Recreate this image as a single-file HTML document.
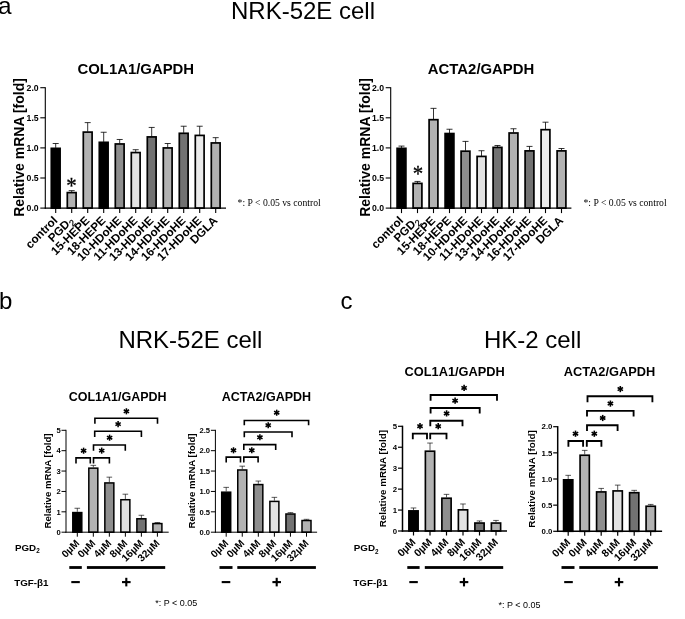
<!DOCTYPE html>
<html><head><meta charset="utf-8"><title>Figure</title>
<style>html,body{margin:0;padding:0;background:#fff;}svg{display:block;will-change:transform;filter:grayscale(1);}text{fill:#000;}</style></head>
<body>
<svg width="685" height="619" viewBox="0 0 685 619" style="display:block">
<rect width="685" height="619" fill="#fff"/>
<text x="-1.90" y="13.80" font-size="24.4" font-family="Liberation Sans, sans-serif" text-anchor="start" >a</text>
<text x="-1.00" y="308.70" font-size="24" font-family="Liberation Sans, sans-serif" text-anchor="start" >b</text>
<text x="340.40" y="308.90" font-size="24" font-family="Liberation Sans, sans-serif" text-anchor="start" >c</text>
<text x="303.00" y="18.70" font-size="24" font-family="Liberation Sans, sans-serif" text-anchor="middle" >NRK-52E cell</text>
<text x="190.40" y="347.60" font-size="24" font-family="Liberation Sans, sans-serif" text-anchor="middle" >NRK-52E cell</text>
<text x="532.60" y="347.60" font-size="24" font-family="Liberation Sans, sans-serif" text-anchor="middle" >HK-2 cell</text>
<path d="M55.70,147.90V143.51M52.70,143.51H58.70" stroke="#000" stroke-width="0.8" fill="none"/>
<path d="M71.70,192.15V190.64M68.70,190.64H74.70" stroke="#000" stroke-width="0.8" fill="none"/>
<path d="M87.70,131.65V122.62M84.70,122.62H90.70" stroke="#000" stroke-width="0.8" fill="none"/>
<path d="M103.70,141.88V132.25M100.70,132.25H106.70" stroke="#000" stroke-width="0.8" fill="none"/>
<path d="M119.70,143.51V139.47M116.70,139.47H122.70" stroke="#000" stroke-width="0.8" fill="none"/>
<path d="M135.70,152.11V149.71M132.70,149.71H138.70" stroke="#000" stroke-width="0.8" fill="none"/>
<path d="M151.70,136.46V127.43M148.70,127.43H154.70" stroke="#000" stroke-width="0.8" fill="none"/>
<path d="M167.70,147.48V143.51M164.70,143.51H170.70" stroke="#000" stroke-width="0.8" fill="none"/>
<path d="M183.70,132.85V126.23M180.70,126.23H186.70" stroke="#000" stroke-width="0.8" fill="none"/>
<path d="M199.70,134.96V126.23M196.70,126.23H202.70" stroke="#000" stroke-width="0.8" fill="none"/>
<path d="M215.70,142.48V137.67M212.70,137.67H218.70" stroke="#000" stroke-width="0.8" fill="none"/>
<rect x="51.30" y="148.35" width="8.80" height="59.75" fill="#000000" stroke="#000" stroke-width="1.7"/>
<rect x="67.30" y="192.60" width="8.80" height="15.50" fill="#b2b2b2" stroke="#000" stroke-width="1.7"/>
<rect x="83.30" y="132.10" width="8.80" height="76.00" fill="#b2b2b2" stroke="#000" stroke-width="1.7"/>
<rect x="99.30" y="142.33" width="8.80" height="65.77" fill="#000000" stroke="#000" stroke-width="1.7"/>
<rect x="115.30" y="143.96" width="8.80" height="64.14" fill="#8e8e8e" stroke="#000" stroke-width="1.7"/>
<rect x="131.30" y="152.56" width="8.80" height="55.54" fill="#e2e2e2" stroke="#000" stroke-width="1.7"/>
<rect x="147.30" y="136.91" width="8.80" height="71.19" fill="#727272" stroke="#000" stroke-width="1.7"/>
<rect x="163.30" y="147.93" width="8.80" height="60.17" fill="#b2b2b2" stroke="#000" stroke-width="1.7"/>
<rect x="179.30" y="133.30" width="8.80" height="74.80" fill="#727272" stroke="#000" stroke-width="1.7"/>
<rect x="195.30" y="135.41" width="8.80" height="72.69" fill="#ebebeb" stroke="#000" stroke-width="1.7"/>
<rect x="211.30" y="142.93" width="8.80" height="65.17" fill="#b2b2b2" stroke="#000" stroke-width="1.7"/>
<line x1="45.30" y1="87.15" x2="45.30" y2="208.65" stroke="#000" stroke-width="1.1" stroke-linecap="butt"/>
<line x1="44.75" y1="208.10" x2="226.00" y2="208.10" stroke="#000" stroke-width="1.1" stroke-linecap="butt"/>
<line x1="40.30" y1="208.10" x2="45.30" y2="208.10" stroke="#000" stroke-width="1.1" stroke-linecap="butt"/>
<text x="38.70" y="211.21" font-size="8.7" font-family="Liberation Sans, sans-serif" font-weight="bold" text-anchor="end" >0.0</text>
<line x1="40.30" y1="178.00" x2="45.30" y2="178.00" stroke="#000" stroke-width="1.1" stroke-linecap="butt"/>
<text x="38.70" y="181.11" font-size="8.7" font-family="Liberation Sans, sans-serif" font-weight="bold" text-anchor="end" >0.5</text>
<line x1="40.30" y1="147.90" x2="45.30" y2="147.90" stroke="#000" stroke-width="1.1" stroke-linecap="butt"/>
<text x="38.70" y="151.01" font-size="8.7" font-family="Liberation Sans, sans-serif" font-weight="bold" text-anchor="end" >1.0</text>
<line x1="40.30" y1="117.80" x2="45.30" y2="117.80" stroke="#000" stroke-width="1.1" stroke-linecap="butt"/>
<text x="38.70" y="120.91" font-size="8.7" font-family="Liberation Sans, sans-serif" font-weight="bold" text-anchor="end" >1.5</text>
<line x1="40.30" y1="87.70" x2="45.30" y2="87.70" stroke="#000" stroke-width="1.1" stroke-linecap="butt"/>
<text x="38.70" y="90.81" font-size="8.7" font-family="Liberation Sans, sans-serif" font-weight="bold" text-anchor="end" >2.0</text>
<line x1="55.70" y1="208.10" x2="55.70" y2="213.10" stroke="#000" stroke-width="1.1" stroke-linecap="butt"/>
<line x1="71.70" y1="208.10" x2="71.70" y2="213.10" stroke="#000" stroke-width="1.1" stroke-linecap="butt"/>
<line x1="87.70" y1="208.10" x2="87.70" y2="213.10" stroke="#000" stroke-width="1.1" stroke-linecap="butt"/>
<line x1="103.70" y1="208.10" x2="103.70" y2="213.10" stroke="#000" stroke-width="1.1" stroke-linecap="butt"/>
<line x1="119.70" y1="208.10" x2="119.70" y2="213.10" stroke="#000" stroke-width="1.1" stroke-linecap="butt"/>
<line x1="135.70" y1="208.10" x2="135.70" y2="213.10" stroke="#000" stroke-width="1.1" stroke-linecap="butt"/>
<line x1="151.70" y1="208.10" x2="151.70" y2="213.10" stroke="#000" stroke-width="1.1" stroke-linecap="butt"/>
<line x1="167.70" y1="208.10" x2="167.70" y2="213.10" stroke="#000" stroke-width="1.1" stroke-linecap="butt"/>
<line x1="183.70" y1="208.10" x2="183.70" y2="213.10" stroke="#000" stroke-width="1.1" stroke-linecap="butt"/>
<line x1="199.70" y1="208.10" x2="199.70" y2="213.10" stroke="#000" stroke-width="1.1" stroke-linecap="butt"/>
<line x1="215.70" y1="208.10" x2="215.70" y2="213.10" stroke="#000" stroke-width="1.1" stroke-linecap="butt"/>
<text x="135.80" y="74.40" font-size="14.9" font-family="Liberation Sans, sans-serif" font-weight="bold" text-anchor="middle" >COL1A1/GAPDH</text>
<text transform="translate(24.30,147.50) rotate(-90)" font-size="14" font-family="Liberation Sans, sans-serif" font-weight="bold" text-anchor="middle">Relative mRNA [fold]</text>
<text transform="translate(58.20,221.20) rotate(-45)" font-size="11.7" font-family="Liberation Sans, sans-serif" font-weight="bold" text-anchor="end">control</text>
<text transform="translate(74.20,221.20) rotate(-45)" font-size="11.7" font-family="Liberation Sans, sans-serif" font-weight="bold" text-anchor="end">PGD<tspan font-size="9.2" font-weight="normal" stroke="#000" stroke-width="0.25" dy="3">2</tspan></text>
<text transform="translate(90.20,221.20) rotate(-45)" font-size="11.7" font-family="Liberation Sans, sans-serif" font-weight="bold" text-anchor="end">15-HEPE</text>
<text transform="translate(106.20,221.20) rotate(-45)" font-size="11.7" font-family="Liberation Sans, sans-serif" font-weight="bold" text-anchor="end">18-HEPE</text>
<text transform="translate(122.20,221.20) rotate(-45)" font-size="11.7" font-family="Liberation Sans, sans-serif" font-weight="bold" text-anchor="end">10-HDoHE</text>
<text transform="translate(138.20,221.20) rotate(-45)" font-size="11.7" font-family="Liberation Sans, sans-serif" font-weight="bold" text-anchor="end">11-HDoHE</text>
<text transform="translate(154.20,221.20) rotate(-45)" font-size="11.7" font-family="Liberation Sans, sans-serif" font-weight="bold" text-anchor="end">13-HDoHE</text>
<text transform="translate(170.20,221.20) rotate(-45)" font-size="11.7" font-family="Liberation Sans, sans-serif" font-weight="bold" text-anchor="end">14-HDoHE</text>
<text transform="translate(186.20,221.20) rotate(-45)" font-size="11.7" font-family="Liberation Sans, sans-serif" font-weight="bold" text-anchor="end">16-HDoHE</text>
<text transform="translate(202.20,221.20) rotate(-45)" font-size="11.7" font-family="Liberation Sans, sans-serif" font-weight="bold" text-anchor="end">17-HDoHE</text>
<text transform="translate(218.20,221.20) rotate(-45)" font-size="11.7" font-family="Liberation Sans, sans-serif" font-weight="bold" text-anchor="end">DGLA</text>
<text transform="translate(71.40,193.05) scale(0.87,1)" font-size="24" font-family="Liberation Serif, serif" text-anchor="middle" stroke="#000" stroke-width="0.3">*</text>
<text x="237.60" y="205.90" font-size="9.7" font-family="Liberation Serif, serif" text-anchor="start" >*: P &lt; 0.05 vs control</text>
<path d="M401.50,147.90V146.09M398.50,146.09H404.50" stroke="#000" stroke-width="0.8" fill="none"/>
<path d="M417.50,182.94V181.43M414.50,181.43H420.50" stroke="#000" stroke-width="0.8" fill="none"/>
<path d="M433.50,119.24V108.35M430.50,108.35H436.50" stroke="#000" stroke-width="0.8" fill="none"/>
<path d="M449.50,133.09V129.24M446.50,129.24H452.50" stroke="#000" stroke-width="0.8" fill="none"/>
<path d="M465.50,150.73V141.40M462.50,141.40H468.50" stroke="#000" stroke-width="0.8" fill="none"/>
<path d="M481.50,155.97V150.73M478.50,150.73H484.50" stroke="#000" stroke-width="0.8" fill="none"/>
<path d="M497.50,146.94V145.49M494.50,145.49H500.50" stroke="#000" stroke-width="0.8" fill="none"/>
<path d="M513.50,132.55V128.76M510.50,128.76H516.50" stroke="#000" stroke-width="0.8" fill="none"/>
<path d="M529.50,150.43V146.40M526.50,146.40H532.50" stroke="#000" stroke-width="0.8" fill="none"/>
<path d="M545.50,129.24V122.19M542.50,122.19H548.50" stroke="#000" stroke-width="0.8" fill="none"/>
<path d="M561.50,150.43V148.50M558.50,148.50H564.50" stroke="#000" stroke-width="0.8" fill="none"/>
<rect x="397.10" y="148.35" width="8.80" height="59.75" fill="#000000" stroke="#000" stroke-width="1.7"/>
<rect x="413.10" y="183.39" width="8.80" height="24.71" fill="#b2b2b2" stroke="#000" stroke-width="1.7"/>
<rect x="429.10" y="119.69" width="8.80" height="88.41" fill="#b2b2b2" stroke="#000" stroke-width="1.7"/>
<rect x="445.10" y="133.54" width="8.80" height="74.56" fill="#000000" stroke="#000" stroke-width="1.7"/>
<rect x="461.10" y="151.18" width="8.80" height="56.92" fill="#8e8e8e" stroke="#000" stroke-width="1.7"/>
<rect x="477.10" y="156.42" width="8.80" height="51.68" fill="#e2e2e2" stroke="#000" stroke-width="1.7"/>
<rect x="493.10" y="147.39" width="8.80" height="60.71" fill="#727272" stroke="#000" stroke-width="1.7"/>
<rect x="509.10" y="133.00" width="8.80" height="75.10" fill="#b2b2b2" stroke="#000" stroke-width="1.7"/>
<rect x="525.10" y="150.88" width="8.80" height="57.22" fill="#727272" stroke="#000" stroke-width="1.7"/>
<rect x="541.10" y="129.69" width="8.80" height="78.41" fill="#ebebeb" stroke="#000" stroke-width="1.7"/>
<rect x="557.10" y="150.88" width="8.80" height="57.22" fill="#b2b2b2" stroke="#000" stroke-width="1.7"/>
<line x1="390.70" y1="87.15" x2="390.70" y2="208.65" stroke="#000" stroke-width="1.1" stroke-linecap="butt"/>
<line x1="390.15" y1="208.10" x2="571.40" y2="208.10" stroke="#000" stroke-width="1.1" stroke-linecap="butt"/>
<line x1="385.70" y1="208.10" x2="390.70" y2="208.10" stroke="#000" stroke-width="1.1" stroke-linecap="butt"/>
<text x="384.10" y="211.21" font-size="8.7" font-family="Liberation Sans, sans-serif" font-weight="bold" text-anchor="end" >0.0</text>
<line x1="385.70" y1="178.00" x2="390.70" y2="178.00" stroke="#000" stroke-width="1.1" stroke-linecap="butt"/>
<text x="384.10" y="181.11" font-size="8.7" font-family="Liberation Sans, sans-serif" font-weight="bold" text-anchor="end" >0.5</text>
<line x1="385.70" y1="147.90" x2="390.70" y2="147.90" stroke="#000" stroke-width="1.1" stroke-linecap="butt"/>
<text x="384.10" y="151.01" font-size="8.7" font-family="Liberation Sans, sans-serif" font-weight="bold" text-anchor="end" >1.0</text>
<line x1="385.70" y1="117.80" x2="390.70" y2="117.80" stroke="#000" stroke-width="1.1" stroke-linecap="butt"/>
<text x="384.10" y="120.91" font-size="8.7" font-family="Liberation Sans, sans-serif" font-weight="bold" text-anchor="end" >1.5</text>
<line x1="385.70" y1="87.70" x2="390.70" y2="87.70" stroke="#000" stroke-width="1.1" stroke-linecap="butt"/>
<text x="384.10" y="90.81" font-size="8.7" font-family="Liberation Sans, sans-serif" font-weight="bold" text-anchor="end" >2.0</text>
<line x1="401.50" y1="208.10" x2="401.50" y2="213.10" stroke="#000" stroke-width="1.1" stroke-linecap="butt"/>
<line x1="417.50" y1="208.10" x2="417.50" y2="213.10" stroke="#000" stroke-width="1.1" stroke-linecap="butt"/>
<line x1="433.50" y1="208.10" x2="433.50" y2="213.10" stroke="#000" stroke-width="1.1" stroke-linecap="butt"/>
<line x1="449.50" y1="208.10" x2="449.50" y2="213.10" stroke="#000" stroke-width="1.1" stroke-linecap="butt"/>
<line x1="465.50" y1="208.10" x2="465.50" y2="213.10" stroke="#000" stroke-width="1.1" stroke-linecap="butt"/>
<line x1="481.50" y1="208.10" x2="481.50" y2="213.10" stroke="#000" stroke-width="1.1" stroke-linecap="butt"/>
<line x1="497.50" y1="208.10" x2="497.50" y2="213.10" stroke="#000" stroke-width="1.1" stroke-linecap="butt"/>
<line x1="513.50" y1="208.10" x2="513.50" y2="213.10" stroke="#000" stroke-width="1.1" stroke-linecap="butt"/>
<line x1="529.50" y1="208.10" x2="529.50" y2="213.10" stroke="#000" stroke-width="1.1" stroke-linecap="butt"/>
<line x1="545.50" y1="208.10" x2="545.50" y2="213.10" stroke="#000" stroke-width="1.1" stroke-linecap="butt"/>
<line x1="561.50" y1="208.10" x2="561.50" y2="213.10" stroke="#000" stroke-width="1.1" stroke-linecap="butt"/>
<text x="481.10" y="74.40" font-size="14.9" font-family="Liberation Sans, sans-serif" font-weight="bold" text-anchor="middle" >ACTA2/GAPDH</text>
<text transform="translate(369.70,147.50) rotate(-90)" font-size="14" font-family="Liberation Sans, sans-serif" font-weight="bold" text-anchor="middle">Relative mRNA [fold]</text>
<text transform="translate(404.00,221.20) rotate(-45)" font-size="11.7" font-family="Liberation Sans, sans-serif" font-weight="bold" text-anchor="end">control</text>
<text transform="translate(420.00,221.20) rotate(-45)" font-size="11.7" font-family="Liberation Sans, sans-serif" font-weight="bold" text-anchor="end">PGD<tspan font-size="9.2" font-weight="normal" stroke="#000" stroke-width="0.25" dy="3">2</tspan></text>
<text transform="translate(436.00,221.20) rotate(-45)" font-size="11.7" font-family="Liberation Sans, sans-serif" font-weight="bold" text-anchor="end">15-HEPE</text>
<text transform="translate(452.00,221.20) rotate(-45)" font-size="11.7" font-family="Liberation Sans, sans-serif" font-weight="bold" text-anchor="end">18-HEPE</text>
<text transform="translate(468.00,221.20) rotate(-45)" font-size="11.7" font-family="Liberation Sans, sans-serif" font-weight="bold" text-anchor="end">10-HDoHE</text>
<text transform="translate(484.00,221.20) rotate(-45)" font-size="11.7" font-family="Liberation Sans, sans-serif" font-weight="bold" text-anchor="end">11-HDoHE</text>
<text transform="translate(500.00,221.20) rotate(-45)" font-size="11.7" font-family="Liberation Sans, sans-serif" font-weight="bold" text-anchor="end">13-HDoHE</text>
<text transform="translate(516.00,221.20) rotate(-45)" font-size="11.7" font-family="Liberation Sans, sans-serif" font-weight="bold" text-anchor="end">14-HDoHE</text>
<text transform="translate(532.00,221.20) rotate(-45)" font-size="11.7" font-family="Liberation Sans, sans-serif" font-weight="bold" text-anchor="end">16-HDoHE</text>
<text transform="translate(548.00,221.20) rotate(-45)" font-size="11.7" font-family="Liberation Sans, sans-serif" font-weight="bold" text-anchor="end">17-HDoHE</text>
<text transform="translate(564.00,221.20) rotate(-45)" font-size="11.7" font-family="Liberation Sans, sans-serif" font-weight="bold" text-anchor="end">DGLA</text>
<text transform="translate(417.90,181.04) scale(0.87,1)" font-size="24" font-family="Liberation Serif, serif" text-anchor="middle" stroke="#000" stroke-width="0.3">*</text>
<text x="583.50" y="205.90" font-size="9.7" font-family="Liberation Serif, serif" text-anchor="start" >*: P &lt; 0.05 vs control</text>
<path d="M77.30,511.82V508.25M74.50,508.25H80.10" stroke="#000" stroke-width="0.65" fill="none"/>
<path d="M93.32,467.39V465.35M90.52,465.35H96.12" stroke="#000" stroke-width="0.65" fill="none"/>
<path d="M109.34,482.17V477.17M106.54,477.17H112.14" stroke="#000" stroke-width="0.65" fill="none"/>
<path d="M125.36,498.98V494.19M122.56,494.19H128.16" stroke="#000" stroke-width="0.65" fill="none"/>
<path d="M141.38,518.04V515.28M138.58,515.28H144.18" stroke="#000" stroke-width="0.65" fill="none"/>
<path d="M157.40,522.83V522.52M154.60,522.52H160.20" stroke="#000" stroke-width="0.65" fill="none"/>
<rect x="72.80" y="512.57" width="9.00" height="19.63" fill="#000000" stroke="#000" stroke-width="1.5"/>
<rect x="88.82" y="468.14" width="9.00" height="64.06" fill="#b2b2b2" stroke="#000" stroke-width="1.5"/>
<rect x="104.84" y="482.92" width="9.00" height="49.28" fill="#8e8e8e" stroke="#000" stroke-width="1.5"/>
<rect x="120.86" y="499.73" width="9.00" height="32.47" fill="#e2e2e2" stroke="#000" stroke-width="1.5"/>
<rect x="136.88" y="518.79" width="9.00" height="13.41" fill="#727272" stroke="#000" stroke-width="1.5"/>
<rect x="152.90" y="523.58" width="9.00" height="8.62" fill="#b2b2b2" stroke="#000" stroke-width="1.5"/>
<line x1="66.00" y1="429.80" x2="66.00" y2="532.70" stroke="#000" stroke-width="1.0" stroke-linecap="butt"/>
<line x1="65.50" y1="532.20" x2="168.70" y2="532.20" stroke="#000" stroke-width="1.0" stroke-linecap="butt"/>
<line x1="61.50" y1="532.20" x2="66.00" y2="532.20" stroke="#000" stroke-width="1.0" stroke-linecap="butt"/>
<text x="60.70" y="534.92" font-size="7.6" font-family="Liberation Sans, sans-serif" font-weight="bold" text-anchor="end" >0</text>
<line x1="61.50" y1="511.82" x2="66.00" y2="511.82" stroke="#000" stroke-width="1.0" stroke-linecap="butt"/>
<text x="60.70" y="514.54" font-size="7.6" font-family="Liberation Sans, sans-serif" font-weight="bold" text-anchor="end" >1</text>
<line x1="61.50" y1="491.44" x2="66.00" y2="491.44" stroke="#000" stroke-width="1.0" stroke-linecap="butt"/>
<text x="60.70" y="494.16" font-size="7.6" font-family="Liberation Sans, sans-serif" font-weight="bold" text-anchor="end" >2</text>
<line x1="61.50" y1="471.06" x2="66.00" y2="471.06" stroke="#000" stroke-width="1.0" stroke-linecap="butt"/>
<text x="60.70" y="473.78" font-size="7.6" font-family="Liberation Sans, sans-serif" font-weight="bold" text-anchor="end" >3</text>
<line x1="61.50" y1="450.68" x2="66.00" y2="450.68" stroke="#000" stroke-width="1.0" stroke-linecap="butt"/>
<text x="60.70" y="453.40" font-size="7.6" font-family="Liberation Sans, sans-serif" font-weight="bold" text-anchor="end" >4</text>
<line x1="61.50" y1="430.30" x2="66.00" y2="430.30" stroke="#000" stroke-width="1.0" stroke-linecap="butt"/>
<text x="60.70" y="433.02" font-size="7.6" font-family="Liberation Sans, sans-serif" font-weight="bold" text-anchor="end" >5</text>
<line x1="77.30" y1="532.20" x2="77.30" y2="536.70" stroke="#000" stroke-width="1.0" stroke-linecap="butt"/>
<line x1="93.32" y1="532.20" x2="93.32" y2="536.70" stroke="#000" stroke-width="1.0" stroke-linecap="butt"/>
<line x1="109.34" y1="532.20" x2="109.34" y2="536.70" stroke="#000" stroke-width="1.0" stroke-linecap="butt"/>
<line x1="125.36" y1="532.20" x2="125.36" y2="536.70" stroke="#000" stroke-width="1.0" stroke-linecap="butt"/>
<line x1="141.38" y1="532.20" x2="141.38" y2="536.70" stroke="#000" stroke-width="1.0" stroke-linecap="butt"/>
<line x1="157.40" y1="532.20" x2="157.40" y2="536.70" stroke="#000" stroke-width="1.0" stroke-linecap="butt"/>
<text x="117.60" y="401.10" font-size="12.5" font-family="Liberation Sans, sans-serif" font-weight="bold" text-anchor="middle" >COL1A1/GAPDH</text>
<text transform="translate(50.50,481.00) rotate(-90)" font-size="9.6" font-family="Liberation Sans, sans-serif" font-weight="bold" text-anchor="middle">Relative mRNA [fold]</text>
<text transform="translate(80.10,543.90) rotate(-45)" font-size="10.3" font-family="Liberation Sans, sans-serif" font-weight="bold" text-anchor="end">0µM</text>
<text transform="translate(96.12,543.90) rotate(-45)" font-size="10.3" font-family="Liberation Sans, sans-serif" font-weight="bold" text-anchor="end">0µM</text>
<text transform="translate(112.14,543.90) rotate(-45)" font-size="10.3" font-family="Liberation Sans, sans-serif" font-weight="bold" text-anchor="end">4µM</text>
<text transform="translate(128.16,543.90) rotate(-45)" font-size="10.3" font-family="Liberation Sans, sans-serif" font-weight="bold" text-anchor="end">8µM</text>
<text transform="translate(144.18,543.90) rotate(-45)" font-size="10.3" font-family="Liberation Sans, sans-serif" font-weight="bold" text-anchor="end">16µM</text>
<text transform="translate(160.20,543.90) rotate(-45)" font-size="10.3" font-family="Liberation Sans, sans-serif" font-weight="bold" text-anchor="end">32µM</text>
<polyline points="76.00,463.60 76.00,457.90 90.30,457.90 90.30,463.60" fill="none" stroke="#000" stroke-width="1.6" stroke-linejoin="miter"/>
<polyline points="93.50,463.60 93.50,457.90 109.40,457.90 109.40,463.60" fill="none" stroke="#000" stroke-width="1.6" stroke-linejoin="miter"/>
<polyline points="93.50,450.80 93.50,445.00 125.30,445.00 125.30,450.80" fill="none" stroke="#000" stroke-width="1.6" stroke-linejoin="miter"/>
<polyline points="94.70,437.00 94.70,431.30 141.40,431.30 141.40,437.00" fill="none" stroke="#000" stroke-width="1.6" stroke-linejoin="miter"/>
<polyline points="94.90,423.80 94.90,418.20 157.50,418.20 157.50,423.80" fill="none" stroke="#000" stroke-width="1.6" stroke-linejoin="miter"/>
<line x1="83.60" y1="447.65" x2="83.60" y2="453.75" stroke="#000" stroke-width="1.55" stroke-linecap="butt"/>
<line x1="80.96" y1="449.18" x2="86.24" y2="452.22" stroke="#000" stroke-width="1.55" stroke-linecap="butt"/>
<line x1="86.24" y1="449.18" x2="80.96" y2="452.22" stroke="#000" stroke-width="1.55" stroke-linecap="butt"/>
<line x1="101.70" y1="447.55" x2="101.70" y2="453.65" stroke="#000" stroke-width="1.55" stroke-linecap="butt"/>
<line x1="99.06" y1="449.08" x2="104.34" y2="452.12" stroke="#000" stroke-width="1.55" stroke-linecap="butt"/>
<line x1="104.34" y1="449.08" x2="99.06" y2="452.12" stroke="#000" stroke-width="1.55" stroke-linecap="butt"/>
<line x1="109.60" y1="434.65" x2="109.60" y2="440.75" stroke="#000" stroke-width="1.55" stroke-linecap="butt"/>
<line x1="106.96" y1="436.18" x2="112.24" y2="439.22" stroke="#000" stroke-width="1.55" stroke-linecap="butt"/>
<line x1="112.24" y1="436.18" x2="106.96" y2="439.22" stroke="#000" stroke-width="1.55" stroke-linecap="butt"/>
<line x1="118.10" y1="421.05" x2="118.10" y2="427.15" stroke="#000" stroke-width="1.55" stroke-linecap="butt"/>
<line x1="115.46" y1="422.58" x2="120.74" y2="425.62" stroke="#000" stroke-width="1.55" stroke-linecap="butt"/>
<line x1="120.74" y1="422.58" x2="115.46" y2="425.62" stroke="#000" stroke-width="1.55" stroke-linecap="butt"/>
<line x1="126.40" y1="408.25" x2="126.40" y2="414.35" stroke="#000" stroke-width="1.55" stroke-linecap="butt"/>
<line x1="123.76" y1="409.78" x2="129.04" y2="412.82" stroke="#000" stroke-width="1.55" stroke-linecap="butt"/>
<line x1="129.04" y1="409.78" x2="123.76" y2="412.82" stroke="#000" stroke-width="1.55" stroke-linecap="butt"/>
<rect x="69.30" y="566.1" width="12.50" height="2.8" fill="#000"/>
<rect x="86.90" y="566.1" width="78.30" height="2.8" fill="#000"/>
<rect x="71.30" y="581.05" width="8.50" height="2.1" fill="#000"/>
<rect x="122.00" y="581.05" width="8.6" height="2.1" fill="#000"/>
<rect x="125.25" y="577.8" width="2.1" height="8.6" fill="#000"/>
<path d="M226.20,491.44V487.36M223.40,487.36H229.00" stroke="#000" stroke-width="0.65" fill="none"/>
<path d="M242.26,469.23V466.17M239.46,466.17H245.06" stroke="#000" stroke-width="0.65" fill="none"/>
<path d="M258.32,483.82V481.05M255.52,481.05H261.12" stroke="#000" stroke-width="0.65" fill="none"/>
<path d="M274.38,500.65V497.35M271.58,497.35H277.18" stroke="#000" stroke-width="0.65" fill="none"/>
<path d="M290.44,513.25V512.64M287.64,512.64H293.24" stroke="#000" stroke-width="0.65" fill="none"/>
<path d="M306.50,519.77V519.32M303.70,519.32H309.30" stroke="#000" stroke-width="0.65" fill="none"/>
<rect x="221.70" y="492.19" width="9.00" height="40.01" fill="#000000" stroke="#000" stroke-width="1.5"/>
<rect x="237.76" y="469.98" width="9.00" height="62.22" fill="#b2b2b2" stroke="#000" stroke-width="1.5"/>
<rect x="253.82" y="484.57" width="9.00" height="47.63" fill="#8e8e8e" stroke="#000" stroke-width="1.5"/>
<rect x="269.88" y="501.40" width="9.00" height="30.80" fill="#e2e2e2" stroke="#000" stroke-width="1.5"/>
<rect x="285.94" y="514.00" width="9.00" height="18.20" fill="#727272" stroke="#000" stroke-width="1.5"/>
<rect x="302.00" y="520.52" width="9.00" height="11.68" fill="#b2b2b2" stroke="#000" stroke-width="1.5"/>
<line x1="215.40" y1="429.80" x2="215.40" y2="532.70" stroke="#000" stroke-width="1.0" stroke-linecap="butt"/>
<line x1="214.90" y1="532.20" x2="317.10" y2="532.20" stroke="#000" stroke-width="1.0" stroke-linecap="butt"/>
<line x1="210.90" y1="532.20" x2="215.40" y2="532.20" stroke="#000" stroke-width="1.0" stroke-linecap="butt"/>
<text x="210.10" y="534.92" font-size="7.6" font-family="Liberation Sans, sans-serif" font-weight="bold" text-anchor="end" >0.0</text>
<line x1="210.90" y1="511.82" x2="215.40" y2="511.82" stroke="#000" stroke-width="1.0" stroke-linecap="butt"/>
<text x="210.10" y="514.54" font-size="7.6" font-family="Liberation Sans, sans-serif" font-weight="bold" text-anchor="end" >0.5</text>
<line x1="210.90" y1="491.44" x2="215.40" y2="491.44" stroke="#000" stroke-width="1.0" stroke-linecap="butt"/>
<text x="210.10" y="494.16" font-size="7.6" font-family="Liberation Sans, sans-serif" font-weight="bold" text-anchor="end" >1.0</text>
<line x1="210.90" y1="471.06" x2="215.40" y2="471.06" stroke="#000" stroke-width="1.0" stroke-linecap="butt"/>
<text x="210.10" y="473.78" font-size="7.6" font-family="Liberation Sans, sans-serif" font-weight="bold" text-anchor="end" >1.5</text>
<line x1="210.90" y1="450.68" x2="215.40" y2="450.68" stroke="#000" stroke-width="1.0" stroke-linecap="butt"/>
<text x="210.10" y="453.40" font-size="7.6" font-family="Liberation Sans, sans-serif" font-weight="bold" text-anchor="end" >2.0</text>
<line x1="210.90" y1="430.30" x2="215.40" y2="430.30" stroke="#000" stroke-width="1.0" stroke-linecap="butt"/>
<text x="210.10" y="433.02" font-size="7.6" font-family="Liberation Sans, sans-serif" font-weight="bold" text-anchor="end" >2.5</text>
<line x1="226.20" y1="532.20" x2="226.20" y2="536.70" stroke="#000" stroke-width="1.0" stroke-linecap="butt"/>
<line x1="242.26" y1="532.20" x2="242.26" y2="536.70" stroke="#000" stroke-width="1.0" stroke-linecap="butt"/>
<line x1="258.32" y1="532.20" x2="258.32" y2="536.70" stroke="#000" stroke-width="1.0" stroke-linecap="butt"/>
<line x1="274.38" y1="532.20" x2="274.38" y2="536.70" stroke="#000" stroke-width="1.0" stroke-linecap="butt"/>
<line x1="290.44" y1="532.20" x2="290.44" y2="536.70" stroke="#000" stroke-width="1.0" stroke-linecap="butt"/>
<line x1="306.50" y1="532.20" x2="306.50" y2="536.70" stroke="#000" stroke-width="1.0" stroke-linecap="butt"/>
<text x="266.40" y="401.10" font-size="12.5" font-family="Liberation Sans, sans-serif" font-weight="bold" text-anchor="middle" >ACTA2/GAPDH</text>
<text transform="translate(194.60,481.00) rotate(-90)" font-size="9.6" font-family="Liberation Sans, sans-serif" font-weight="bold" text-anchor="middle">Relative mRNA [fold]</text>
<text transform="translate(229.00,543.90) rotate(-45)" font-size="10.3" font-family="Liberation Sans, sans-serif" font-weight="bold" text-anchor="end">0µM</text>
<text transform="translate(245.06,543.90) rotate(-45)" font-size="10.3" font-family="Liberation Sans, sans-serif" font-weight="bold" text-anchor="end">0µM</text>
<text transform="translate(261.12,543.90) rotate(-45)" font-size="10.3" font-family="Liberation Sans, sans-serif" font-weight="bold" text-anchor="end">4µM</text>
<text transform="translate(277.18,543.90) rotate(-45)" font-size="10.3" font-family="Liberation Sans, sans-serif" font-weight="bold" text-anchor="end">8µM</text>
<text transform="translate(293.24,543.90) rotate(-45)" font-size="10.3" font-family="Liberation Sans, sans-serif" font-weight="bold" text-anchor="end">16µM</text>
<text transform="translate(309.30,543.90) rotate(-45)" font-size="10.3" font-family="Liberation Sans, sans-serif" font-weight="bold" text-anchor="end">32µM</text>
<polyline points="226.20,462.40 226.20,457.10 240.50,457.10 240.50,462.40" fill="none" stroke="#000" stroke-width="1.6" stroke-linejoin="miter"/>
<polyline points="243.80,462.40 243.80,457.10 258.10,457.10 258.10,462.40" fill="none" stroke="#000" stroke-width="1.6" stroke-linejoin="miter"/>
<polyline points="243.80,450.10 243.80,444.60 275.70,444.60 275.70,450.10" fill="none" stroke="#000" stroke-width="1.6" stroke-linejoin="miter"/>
<polyline points="244.30,437.30 244.30,432.00 292.00,432.00 292.00,437.30" fill="none" stroke="#000" stroke-width="1.6" stroke-linejoin="miter"/>
<polyline points="244.30,425.20 244.30,420.50 308.60,420.50 308.60,425.20" fill="none" stroke="#000" stroke-width="1.6" stroke-linejoin="miter"/>
<line x1="233.50" y1="447.25" x2="233.50" y2="453.35" stroke="#000" stroke-width="1.55" stroke-linecap="butt"/>
<line x1="230.86" y1="448.78" x2="236.14" y2="451.82" stroke="#000" stroke-width="1.55" stroke-linecap="butt"/>
<line x1="236.14" y1="448.78" x2="230.86" y2="451.82" stroke="#000" stroke-width="1.55" stroke-linecap="butt"/>
<line x1="251.80" y1="447.25" x2="251.80" y2="453.35" stroke="#000" stroke-width="1.55" stroke-linecap="butt"/>
<line x1="249.16" y1="448.78" x2="254.44" y2="451.82" stroke="#000" stroke-width="1.55" stroke-linecap="butt"/>
<line x1="254.44" y1="448.78" x2="249.16" y2="451.82" stroke="#000" stroke-width="1.55" stroke-linecap="butt"/>
<line x1="259.90" y1="434.25" x2="259.90" y2="440.35" stroke="#000" stroke-width="1.55" stroke-linecap="butt"/>
<line x1="257.26" y1="435.78" x2="262.54" y2="438.82" stroke="#000" stroke-width="1.55" stroke-linecap="butt"/>
<line x1="262.54" y1="435.78" x2="257.26" y2="438.82" stroke="#000" stroke-width="1.55" stroke-linecap="butt"/>
<line x1="268.20" y1="422.15" x2="268.20" y2="428.25" stroke="#000" stroke-width="1.55" stroke-linecap="butt"/>
<line x1="265.56" y1="423.68" x2="270.84" y2="426.72" stroke="#000" stroke-width="1.55" stroke-linecap="butt"/>
<line x1="270.84" y1="423.68" x2="265.56" y2="426.72" stroke="#000" stroke-width="1.55" stroke-linecap="butt"/>
<line x1="276.70" y1="409.65" x2="276.70" y2="415.75" stroke="#000" stroke-width="1.55" stroke-linecap="butt"/>
<line x1="274.06" y1="411.18" x2="279.34" y2="414.22" stroke="#000" stroke-width="1.55" stroke-linecap="butt"/>
<line x1="279.34" y1="411.18" x2="274.06" y2="414.22" stroke="#000" stroke-width="1.55" stroke-linecap="butt"/>
<rect x="219.50" y="566.1" width="13.00" height="2.8" fill="#000"/>
<rect x="237.30" y="566.1" width="78.60" height="2.8" fill="#000"/>
<rect x="221.70" y="581.05" width="8.60" height="2.1" fill="#000"/>
<rect x="272.40" y="581.05" width="8.6" height="2.1" fill="#000"/>
<rect x="275.65" y="577.8" width="2.1" height="8.6" fill="#000"/>
<path d="M413.50,510.06V507.97M410.70,507.97H416.30" stroke="#000" stroke-width="0.65" fill="none"/>
<path d="M430.00,450.38V443.05M427.20,443.05H432.80" stroke="#000" stroke-width="0.65" fill="none"/>
<path d="M446.50,497.39V494.36M443.70,494.36H449.30" stroke="#000" stroke-width="0.65" fill="none"/>
<path d="M463.00,509.01V503.99M460.20,503.99H465.80" stroke="#000" stroke-width="0.65" fill="none"/>
<path d="M479.50,522.21V520.95M476.70,520.95H482.30" stroke="#000" stroke-width="0.65" fill="none"/>
<path d="M496.00,522.21V520.43M493.20,520.43H498.80" stroke="#000" stroke-width="0.65" fill="none"/>
<rect x="408.88" y="510.88" width="9.25" height="20.12" fill="#000000" stroke="#000" stroke-width="1.65"/>
<rect x="425.38" y="451.21" width="9.25" height="79.79" fill="#b2b2b2" stroke="#000" stroke-width="1.65"/>
<rect x="441.88" y="498.22" width="9.25" height="32.78" fill="#8e8e8e" stroke="#000" stroke-width="1.65"/>
<rect x="458.38" y="509.84" width="9.25" height="21.16" fill="#e2e2e2" stroke="#000" stroke-width="1.65"/>
<rect x="474.88" y="523.03" width="9.25" height="7.97" fill="#727272" stroke="#000" stroke-width="1.65"/>
<rect x="491.38" y="523.03" width="9.25" height="7.97" fill="#b2b2b2" stroke="#000" stroke-width="1.65"/>
<line x1="402.50" y1="425.70" x2="402.50" y2="531.75" stroke="#000" stroke-width="1.5" stroke-linecap="butt"/>
<line x1="401.75" y1="531.00" x2="507.00" y2="531.00" stroke="#000" stroke-width="1.5" stroke-linecap="butt"/>
<line x1="398.00" y1="531.00" x2="402.50" y2="531.00" stroke="#000" stroke-width="1.2" stroke-linecap="butt"/>
<text x="397.20" y="533.79" font-size="7.789999999999999" font-family="Liberation Sans, sans-serif" font-weight="bold" text-anchor="end" >0</text>
<line x1="398.00" y1="510.06" x2="402.50" y2="510.06" stroke="#000" stroke-width="1.2" stroke-linecap="butt"/>
<text x="397.20" y="512.85" font-size="7.789999999999999" font-family="Liberation Sans, sans-serif" font-weight="bold" text-anchor="end" >1</text>
<line x1="398.00" y1="489.12" x2="402.50" y2="489.12" stroke="#000" stroke-width="1.2" stroke-linecap="butt"/>
<text x="397.20" y="491.91" font-size="7.789999999999999" font-family="Liberation Sans, sans-serif" font-weight="bold" text-anchor="end" >2</text>
<line x1="398.00" y1="468.18" x2="402.50" y2="468.18" stroke="#000" stroke-width="1.2" stroke-linecap="butt"/>
<text x="397.20" y="470.97" font-size="7.789999999999999" font-family="Liberation Sans, sans-serif" font-weight="bold" text-anchor="end" >3</text>
<line x1="398.00" y1="447.24" x2="402.50" y2="447.24" stroke="#000" stroke-width="1.2" stroke-linecap="butt"/>
<text x="397.20" y="450.03" font-size="7.789999999999999" font-family="Liberation Sans, sans-serif" font-weight="bold" text-anchor="end" >4</text>
<line x1="398.00" y1="426.30" x2="402.50" y2="426.30" stroke="#000" stroke-width="1.2" stroke-linecap="butt"/>
<text x="397.20" y="429.09" font-size="7.789999999999999" font-family="Liberation Sans, sans-serif" font-weight="bold" text-anchor="end" >5</text>
<line x1="413.50" y1="531.00" x2="413.50" y2="535.50" stroke="#000" stroke-width="1.2" stroke-linecap="butt"/>
<line x1="430.00" y1="531.00" x2="430.00" y2="535.50" stroke="#000" stroke-width="1.2" stroke-linecap="butt"/>
<line x1="446.50" y1="531.00" x2="446.50" y2="535.50" stroke="#000" stroke-width="1.2" stroke-linecap="butt"/>
<line x1="463.00" y1="531.00" x2="463.00" y2="535.50" stroke="#000" stroke-width="1.2" stroke-linecap="butt"/>
<line x1="479.50" y1="531.00" x2="479.50" y2="535.50" stroke="#000" stroke-width="1.2" stroke-linecap="butt"/>
<line x1="496.00" y1="531.00" x2="496.00" y2="535.50" stroke="#000" stroke-width="1.2" stroke-linecap="butt"/>
<text x="454.70" y="376.40" font-size="12.812499999999998" font-family="Liberation Sans, sans-serif" font-weight="bold" text-anchor="middle" >COL1A1/GAPDH</text>
<text transform="translate(385.80,478.60) rotate(-90)" font-size="9.839999999999998" font-family="Liberation Sans, sans-serif" font-weight="bold" text-anchor="middle">Relative mRNA [fold]</text>
<text transform="translate(416.30,542.70) rotate(-45)" font-size="10.5575" font-family="Liberation Sans, sans-serif" font-weight="bold" text-anchor="end">0µM</text>
<text transform="translate(432.80,542.70) rotate(-45)" font-size="10.5575" font-family="Liberation Sans, sans-serif" font-weight="bold" text-anchor="end">0µM</text>
<text transform="translate(449.30,542.70) rotate(-45)" font-size="10.5575" font-family="Liberation Sans, sans-serif" font-weight="bold" text-anchor="end">4µM</text>
<text transform="translate(465.80,542.70) rotate(-45)" font-size="10.5575" font-family="Liberation Sans, sans-serif" font-weight="bold" text-anchor="end">8µM</text>
<text transform="translate(482.30,542.70) rotate(-45)" font-size="10.5575" font-family="Liberation Sans, sans-serif" font-weight="bold" text-anchor="end">16µM</text>
<text transform="translate(498.80,542.70) rotate(-45)" font-size="10.5575" font-family="Liberation Sans, sans-serif" font-weight="bold" text-anchor="end">32µM</text>
<polyline points="412.80,439.30 412.80,433.60 427.00,433.60 427.00,439.30" fill="none" stroke="#000" stroke-width="1.85" stroke-linejoin="miter"/>
<polyline points="430.20,439.30 430.20,433.60 446.50,433.60 446.50,439.30" fill="none" stroke="#000" stroke-width="1.85" stroke-linejoin="miter"/>
<polyline points="430.30,426.30 430.30,420.70 462.50,420.70 462.50,426.30" fill="none" stroke="#000" stroke-width="1.85" stroke-linejoin="miter"/>
<polyline points="430.60,413.60 430.60,408.00 479.70,408.00 479.70,413.60" fill="none" stroke="#000" stroke-width="1.85" stroke-linejoin="miter"/>
<polyline points="430.60,400.80 430.60,395.00 497.00,395.00 497.00,400.80" fill="none" stroke="#000" stroke-width="1.85" stroke-linejoin="miter"/>
<line x1="420.00" y1="423.10" x2="420.00" y2="429.30" stroke="#000" stroke-width="1.6" stroke-linecap="butt"/>
<line x1="417.32" y1="424.65" x2="422.68" y2="427.75" stroke="#000" stroke-width="1.6" stroke-linecap="butt"/>
<line x1="422.68" y1="424.65" x2="417.32" y2="427.75" stroke="#000" stroke-width="1.6" stroke-linecap="butt"/>
<line x1="438.20" y1="423.10" x2="438.20" y2="429.30" stroke="#000" stroke-width="1.6" stroke-linecap="butt"/>
<line x1="435.52" y1="424.65" x2="440.88" y2="427.75" stroke="#000" stroke-width="1.6" stroke-linecap="butt"/>
<line x1="440.88" y1="424.65" x2="435.52" y2="427.75" stroke="#000" stroke-width="1.6" stroke-linecap="butt"/>
<line x1="446.60" y1="410.30" x2="446.60" y2="416.50" stroke="#000" stroke-width="1.6" stroke-linecap="butt"/>
<line x1="443.92" y1="411.85" x2="449.28" y2="414.95" stroke="#000" stroke-width="1.6" stroke-linecap="butt"/>
<line x1="449.28" y1="411.85" x2="443.92" y2="414.95" stroke="#000" stroke-width="1.6" stroke-linecap="butt"/>
<line x1="455.10" y1="397.60" x2="455.10" y2="403.80" stroke="#000" stroke-width="1.6" stroke-linecap="butt"/>
<line x1="452.42" y1="399.15" x2="457.78" y2="402.25" stroke="#000" stroke-width="1.6" stroke-linecap="butt"/>
<line x1="457.78" y1="399.15" x2="452.42" y2="402.25" stroke="#000" stroke-width="1.6" stroke-linecap="butt"/>
<line x1="464.10" y1="384.80" x2="464.10" y2="391.00" stroke="#000" stroke-width="1.6" stroke-linecap="butt"/>
<line x1="461.42" y1="386.35" x2="466.78" y2="389.45" stroke="#000" stroke-width="1.6" stroke-linecap="butt"/>
<line x1="466.78" y1="386.35" x2="461.42" y2="389.45" stroke="#000" stroke-width="1.6" stroke-linecap="butt"/>
<rect x="407.30" y="566.1" width="12.30" height="2.8" fill="#000"/>
<rect x="424.80" y="566.1" width="78.40" height="2.8" fill="#000"/>
<rect x="409.30" y="581.05" width="8.50" height="2.1" fill="#000"/>
<rect x="459.70" y="581.05" width="8.6" height="2.1" fill="#000"/>
<rect x="462.95" y="577.8" width="2.1" height="8.6" fill="#000"/>
<path d="M568.20,479.00V475.34M565.40,475.34H571.00" stroke="#000" stroke-width="0.65" fill="none"/>
<path d="M584.70,454.42V450.39M581.90,450.39H587.50" stroke="#000" stroke-width="0.65" fill="none"/>
<path d="M601.20,491.08V488.41M598.40,488.41H604.00" stroke="#000" stroke-width="0.65" fill="none"/>
<path d="M617.70,490.09V485.12M614.90,485.12H620.50" stroke="#000" stroke-width="0.65" fill="none"/>
<path d="M634.20,491.87V490.35M631.40,490.35H637.00" stroke="#000" stroke-width="0.65" fill="none"/>
<path d="M650.70,505.41V504.42M647.90,504.42H653.50" stroke="#000" stroke-width="0.65" fill="none"/>
<rect x="563.58" y="479.82" width="9.25" height="51.47" fill="#000000" stroke="#000" stroke-width="1.65"/>
<rect x="580.08" y="455.24" width="9.25" height="76.06" fill="#b2b2b2" stroke="#000" stroke-width="1.65"/>
<rect x="596.58" y="491.91" width="9.25" height="39.39" fill="#8e8e8e" stroke="#000" stroke-width="1.65"/>
<rect x="613.08" y="490.91" width="9.25" height="40.39" fill="#e2e2e2" stroke="#000" stroke-width="1.65"/>
<rect x="629.58" y="492.69" width="9.25" height="38.61" fill="#727272" stroke="#000" stroke-width="1.65"/>
<rect x="646.08" y="506.24" width="9.25" height="25.06" fill="#b2b2b2" stroke="#000" stroke-width="1.65"/>
<line x1="557.70" y1="426.10" x2="557.70" y2="532.05" stroke="#000" stroke-width="1.5" stroke-linecap="butt"/>
<line x1="556.95" y1="531.30" x2="662.10" y2="531.30" stroke="#000" stroke-width="1.5" stroke-linecap="butt"/>
<line x1="553.20" y1="531.30" x2="557.70" y2="531.30" stroke="#000" stroke-width="1.2" stroke-linecap="butt"/>
<text x="552.40" y="534.09" font-size="7.789999999999999" font-family="Liberation Sans, sans-serif" font-weight="bold" text-anchor="end" >0.0</text>
<line x1="553.20" y1="505.15" x2="557.70" y2="505.15" stroke="#000" stroke-width="1.2" stroke-linecap="butt"/>
<text x="552.40" y="507.94" font-size="7.789999999999999" font-family="Liberation Sans, sans-serif" font-weight="bold" text-anchor="end" >0.5</text>
<line x1="553.20" y1="479.00" x2="557.70" y2="479.00" stroke="#000" stroke-width="1.2" stroke-linecap="butt"/>
<text x="552.40" y="481.79" font-size="7.789999999999999" font-family="Liberation Sans, sans-serif" font-weight="bold" text-anchor="end" >1.0</text>
<line x1="553.20" y1="452.85" x2="557.70" y2="452.85" stroke="#000" stroke-width="1.2" stroke-linecap="butt"/>
<text x="552.40" y="455.64" font-size="7.789999999999999" font-family="Liberation Sans, sans-serif" font-weight="bold" text-anchor="end" >1.5</text>
<line x1="553.20" y1="426.70" x2="557.70" y2="426.70" stroke="#000" stroke-width="1.2" stroke-linecap="butt"/>
<text x="552.40" y="429.49" font-size="7.789999999999999" font-family="Liberation Sans, sans-serif" font-weight="bold" text-anchor="end" >2.0</text>
<line x1="568.20" y1="531.30" x2="568.20" y2="535.80" stroke="#000" stroke-width="1.2" stroke-linecap="butt"/>
<line x1="584.70" y1="531.30" x2="584.70" y2="535.80" stroke="#000" stroke-width="1.2" stroke-linecap="butt"/>
<line x1="601.20" y1="531.30" x2="601.20" y2="535.80" stroke="#000" stroke-width="1.2" stroke-linecap="butt"/>
<line x1="617.70" y1="531.30" x2="617.70" y2="535.80" stroke="#000" stroke-width="1.2" stroke-linecap="butt"/>
<line x1="634.20" y1="531.30" x2="634.20" y2="535.80" stroke="#000" stroke-width="1.2" stroke-linecap="butt"/>
<line x1="650.70" y1="531.30" x2="650.70" y2="535.80" stroke="#000" stroke-width="1.2" stroke-linecap="butt"/>
<text x="609.50" y="376.40" font-size="12.812499999999998" font-family="Liberation Sans, sans-serif" font-weight="bold" text-anchor="middle" >ACTA2/GAPDH</text>
<text transform="translate(535.10,479.00) rotate(-90)" font-size="9.839999999999998" font-family="Liberation Sans, sans-serif" font-weight="bold" text-anchor="middle">Relative mRNA [fold]</text>
<text transform="translate(571.00,543.00) rotate(-45)" font-size="10.5575" font-family="Liberation Sans, sans-serif" font-weight="bold" text-anchor="end">0µM</text>
<text transform="translate(587.50,543.00) rotate(-45)" font-size="10.5575" font-family="Liberation Sans, sans-serif" font-weight="bold" text-anchor="end">0µM</text>
<text transform="translate(604.00,543.00) rotate(-45)" font-size="10.5575" font-family="Liberation Sans, sans-serif" font-weight="bold" text-anchor="end">4µM</text>
<text transform="translate(620.50,543.00) rotate(-45)" font-size="10.5575" font-family="Liberation Sans, sans-serif" font-weight="bold" text-anchor="end">8µM</text>
<text transform="translate(637.00,543.00) rotate(-45)" font-size="10.5575" font-family="Liberation Sans, sans-serif" font-weight="bold" text-anchor="end">16µM</text>
<text transform="translate(653.50,543.00) rotate(-45)" font-size="10.5575" font-family="Liberation Sans, sans-serif" font-weight="bold" text-anchor="end">32µM</text>
<polyline points="568.40,446.80 568.40,441.00 583.10,441.00 583.10,446.80" fill="none" stroke="#000" stroke-width="1.85" stroke-linejoin="miter"/>
<polyline points="586.80,446.80 586.80,441.00 601.40,441.00 601.40,446.80" fill="none" stroke="#000" stroke-width="1.85" stroke-linejoin="miter"/>
<polyline points="587.00,430.90 587.00,425.20 617.60,425.20 617.60,430.90" fill="none" stroke="#000" stroke-width="1.85" stroke-linejoin="miter"/>
<polyline points="587.00,416.60 587.00,410.90 633.60,410.90 633.60,416.60" fill="none" stroke="#000" stroke-width="1.85" stroke-linejoin="miter"/>
<polyline points="587.50,402.20 587.50,396.20 652.40,396.20 652.40,402.20" fill="none" stroke="#000" stroke-width="1.85" stroke-linejoin="miter"/>
<line x1="575.50" y1="430.60" x2="575.50" y2="436.80" stroke="#000" stroke-width="1.6" stroke-linecap="butt"/>
<line x1="572.82" y1="432.15" x2="578.18" y2="435.25" stroke="#000" stroke-width="1.6" stroke-linecap="butt"/>
<line x1="578.18" y1="432.15" x2="572.82" y2="435.25" stroke="#000" stroke-width="1.6" stroke-linecap="butt"/>
<line x1="594.30" y1="430.60" x2="594.30" y2="436.80" stroke="#000" stroke-width="1.6" stroke-linecap="butt"/>
<line x1="591.62" y1="432.15" x2="596.98" y2="435.25" stroke="#000" stroke-width="1.6" stroke-linecap="butt"/>
<line x1="596.98" y1="432.15" x2="591.62" y2="435.25" stroke="#000" stroke-width="1.6" stroke-linecap="butt"/>
<line x1="602.70" y1="414.90" x2="602.70" y2="421.10" stroke="#000" stroke-width="1.6" stroke-linecap="butt"/>
<line x1="600.02" y1="416.45" x2="605.38" y2="419.55" stroke="#000" stroke-width="1.6" stroke-linecap="butt"/>
<line x1="605.38" y1="416.45" x2="600.02" y2="419.55" stroke="#000" stroke-width="1.6" stroke-linecap="butt"/>
<line x1="610.40" y1="400.50" x2="610.40" y2="406.70" stroke="#000" stroke-width="1.6" stroke-linecap="butt"/>
<line x1="607.72" y1="402.05" x2="613.08" y2="405.15" stroke="#000" stroke-width="1.6" stroke-linecap="butt"/>
<line x1="613.08" y1="402.05" x2="607.72" y2="405.15" stroke="#000" stroke-width="1.6" stroke-linecap="butt"/>
<line x1="620.30" y1="386.00" x2="620.30" y2="392.20" stroke="#000" stroke-width="1.6" stroke-linecap="butt"/>
<line x1="617.62" y1="387.55" x2="622.98" y2="390.65" stroke="#000" stroke-width="1.6" stroke-linecap="butt"/>
<line x1="622.98" y1="387.55" x2="617.62" y2="390.65" stroke="#000" stroke-width="1.6" stroke-linecap="butt"/>
<rect x="561.50" y="566.1" width="13.00" height="2.8" fill="#000"/>
<rect x="579.30" y="566.1" width="78.60" height="2.8" fill="#000"/>
<rect x="564.20" y="581.05" width="8.60" height="2.1" fill="#000"/>
<rect x="614.70" y="581.05" width="8.6" height="2.1" fill="#000"/>
<rect x="617.95" y="577.8" width="2.1" height="8.6" fill="#000"/>
<text x="14.90" y="551.10" font-size="9.8" font-family="Liberation Sans, sans-serif" font-weight="bold" text-anchor="start" >PGD<tspan font-size="6.3" dy="2.2">2</tspan></text>
<text x="14.20" y="585.80" font-size="9.8" font-family="Liberation Sans, sans-serif" font-weight="bold" text-anchor="start" >TGF-β1</text>
<text x="353.80" y="551.30" font-size="9.8" font-family="Liberation Sans, sans-serif" font-weight="bold" text-anchor="start" >PGD<tspan font-size="6.3" dy="2.2">2</tspan></text>
<text x="353.30" y="585.80" font-size="9.8" font-family="Liberation Sans, sans-serif" font-weight="bold" text-anchor="start" >TGF-β1</text>
<text x="155.30" y="605.80" font-size="9.3" font-family="Liberation Sans, sans-serif" text-anchor="start" textLength="41.9" lengthAdjust="spacingAndGlyphs">*: P &lt; 0.05</text>
<text x="498.60" y="607.90" font-size="9.3" font-family="Liberation Sans, sans-serif" text-anchor="start" textLength="41.9" lengthAdjust="spacingAndGlyphs">*: P &lt; 0.05</text>
</svg>
</body></html>
